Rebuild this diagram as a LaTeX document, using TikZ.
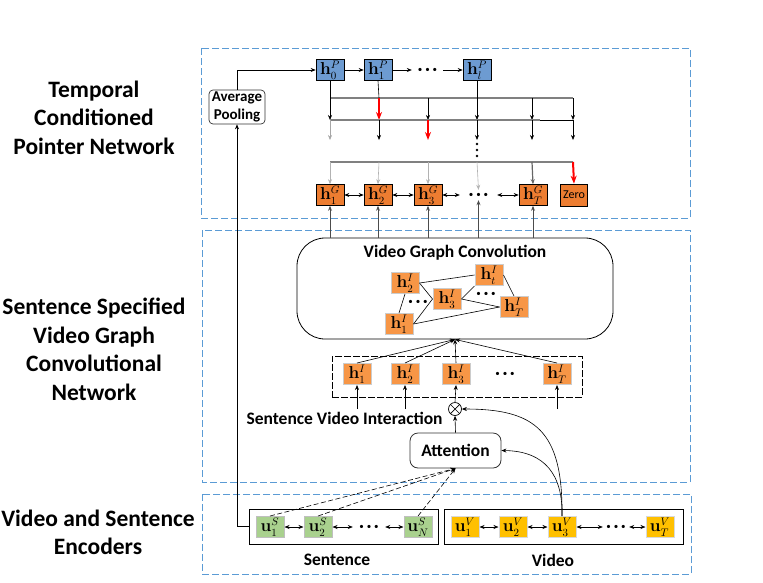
\documentclass[tikz,border=0pt]{standalone}
\usepackage[no-math]{fontspec}
\setmainfont{Carlito}
\usetikzlibrary{arrows.meta,calc}
\definecolor{pblue}{HTML}{6D9BD1}
\definecolor{gorange}{HTML}{ED7D31}
\definecolor{iorange}{HTML}{F79646}
\definecolor{sgreen}{HTML}{A9D18E}
\definecolor{vgold}{HTML}{FFC000}
\definecolor{dashblue}{HTML}{5B9BD5}
\newcommand{\mydots}{\textbullet\hspace{3pt}\textbullet\hspace{3pt}\textbullet}
\tikzset{
  >={Stealth[length=5pt,width=4pt]},
  hbox/.style={draw=black, line width=0.6pt, minimum width=28pt, minimum height=21pt, inner sep=0pt, font=\fontsize{16}{16}\selectfont},
  pbox/.style={hbox, fill=pblue},
  gbox/.style={hbox, fill=gorange},
  ibox/.style={hbox, fill=iorange, draw=black!20, line width=1pt},
  sgbox/.style={hbox, fill=sgreen, draw=black!25, line width=1pt},
  vgbox/.style={hbox, fill=vgold, draw=black!15, line width=1pt},
  region/.style={draw=dashblue, dash pattern=on 7pt off 3pt, line width=0.8pt},
  sidelabel/.style={font=\bfseries\fontsize{23.5}{28.5}\selectfont, align=center},
  titlefont/.style={font=\bfseries\fontsize{17.5}{20}\selectfont},
  dotsn/.style={inner sep=0pt, minimum height=10pt, font=\fontsize{9}{9}\selectfont},
  conn/.style={->, line width=0.6pt},
  dconn/.style={<->, line width=0.6pt},
  plainline/.style={line width=0.6pt},
  redarr/.style={-{Stealth[length=8pt,width=6pt]}, red, line width=2pt},
  grayline/.style={draw=black!50, line width=1.5pt},
}
\begin{document}
\begin{tikzpicture}[x=1pt,y=-1pt]
\useasboundingbox (0,0) rectangle (763,582);

% regions
\draw[region] (201,48) rectangle (690,218);
\draw[region] (202,230) rectangle (690,482);
\draw[region] (202,494) rectangle (691,574);

% side labels
\node[sidelabel] (lbltop) at (94,117.5) {Temporal\\Conditioned\\Pointer Network};
\node[sidelabel] (lblmid) at (94,349.5) {Sentence Specified\\Video Graph\\Convolutional\\Network};
\node[sidelabel] (lblbot) at (98,532.5) {Video and Sentence\\Encoders};

% ---------- pointer network ----------
\node[draw=black!80, rounded corners=4pt, minimum width=56pt, minimum height=34pt, inner sep=1pt,
      font=\bfseries\fontsize{15}{18}\selectfont, align=center, line width=0.7pt] (avg) at (237,107) {Average\\Pooling};

\node[pbox] (h0) at (330,70) {$\mathbf{h}_0^P$};
\node[pbox] (h1) at (378,70) {$\mathbf{h}_1^P$};
\node[dotsn, minimum width=31pt] (pdots) at (427.5,70) {\mydots};
\node[pbox] (hl) at (477,70) {$\mathbf{h}_l^P$};

\draw[conn] (avg.north) |- (h0.west);
\draw[conn] (h0.east) -- (h1.west);
\draw[conn] (h1.east) -- (pdots.west);
\draw[conn] (pdots.east) -- (hl.west);

\foreach \c/\x in {1/330,2/379,3/428,4/477,5/532,6/573}{
  \foreach \r/\y in {a/98,b/120,c/140,d/162}{
    \coordinate (\r\c) at (\x,\y);
  }
}
\coordinate (bmid) at (540,120);

% row 1
\draw[grayline] (a1) -- (a6);
\draw[conn] (h0.south) -- (b1);
\draw[plainline] (h1.south) -- (a2);
\draw[redarr] (a2) -- (b2);
\draw[conn] (a3) -- (b3);
\draw[conn] (hl.south) -- (b4);
\draw[conn] (a5) -- (b5);
\draw[conn] (a6) -- (b6);
% row 2
\draw[grayline] (b1) -- (bmid);
\draw[plainline] (bmid) -- (b6);
\draw[conn, black!35] (b1) -- (c1);
\draw[conn] (b2) -- (c2);
\draw[redarr] (b3) -- (c3);
\draw[conn] (b4) -- (c4);
\draw[conn] (b5) -- (c5);
\draw[conn] (b6) -- (c6);
% vertical dots
\foreach \yy in {144,150,156} \fill (477,\yy) circle (1.3pt);
% row 3
\draw[grayline] (d1) -- (d6);

\node[gbox] (g1) at (330,195) {$\mathbf{h}_1^G$};
\node[gbox] (g2) at (378,195) {$\mathbf{h}_2^G$};
\node[gbox] (g3) at (428,195) {$\mathbf{h}_3^G$};
\node[dotsn, minimum width=37pt] (gdots) at (478.5,195) {\mydots};
\node[gbox] (gT) at (533,195) {$\mathbf{h}_T^G$};
\node[gbox, minimum width=27pt, minimum height=22pt, font=\fontsize{12}{12}\selectfont] (zero) at (574,195) {Zero};

\draw[conn, black!30] (d1) -- (g1.north);
\draw[conn, black!30] (d2) -- (g2.north);
\draw[conn, black!30] (d3) -- (g3.north);
\draw[conn, black!30] (d4) -- (gdots.north);
\draw[conn, black!60, line width=1.2pt] (d5) -- (gT.north);
\draw[redarr] (d6) -- (zero.north);

\draw[dconn] (g1.east) -- (g2.west);
\draw[dconn] (g2.east) -- (g3.west);
\draw[dconn] (g3.east) -- (gdots.west);
\draw[dconn] (gdots.east) -- (gT.west);

% ---------- video graph convolution ----------
\node[draw, rounded corners=28pt, minimum width=316pt, minimum height=101pt, line width=0.8pt] (vgc) at (455,288.5) {};
\node[titlefont] (vgctitle) at (455,253) {Video Graph Convolution};

\draw[conn, black!70, line width=1pt] (g1.south |- vgc.north) -- (g1.south);
\draw[conn, black!70, line width=1pt] (g2.south |- vgc.north) -- (g2.south);
\draw[conn, black!70, line width=1pt] (g3.south |- vgc.north) -- (g3.south);
\draw[conn, black!70, line width=1pt] (gdots.south |- vgc.north) -- (gdots.south);
\draw[conn, black!70, line width=1pt] (gT.south |- vgc.north) -- (gT.south);

\node[ibox] (i2) at (405,283) {$\mathbf{h}_2^I$};
\node[ibox] (i3) at (447,299) {$\mathbf{h}_3^I$};
\node[ibox] (it) at (489,275) {$\mathbf{h}_t^I$};
\node[ibox] (iT) at (514,307) {$\mathbf{h}_T^I$};
\node[ibox] (i1) at (399,324) {$\mathbf{h}_1^I$};

\draw[plainline] (i2.east) -- (it.west);
\draw[plainline] (i2.east) -- (i3.west) -- (i1.east);
\draw[plainline] (i1.north) -- (i2.south);
\draw[plainline] (i1.east) -- (iT.west);
\draw[plainline] (i3.east) -- (iT.west);
\draw[plainline] (i3.east) -- (it.south west);
\draw[plainline] (it.east) -- (iT.north);
\node[dotsn] (gd1) at (418,302) {\mydots};
\node[dotsn] (gd2) at (486,294) {\mydots};

% lower h^I row
\node[draw, dash pattern=on 7pt off 2pt, minimum width=250pt, minimum height=41pt, line width=0.7pt] (irow) at (457,376.5) {};
\node[ibox] (j1) at (357,374) {$\mathbf{h}_1^I$};
\node[ibox] (j2) at (405,374) {$\mathbf{h}_2^I$};
\node[ibox] (j3) at (456,374) {$\mathbf{h}_3^I$};
\node[dotsn] (jdots) at (505,374) {\mydots};
\node[ibox] (jT) at (557,374) {$\mathbf{h}_T^I$};

\draw[conn] (j1.north) -- (vgc.south);
\draw[conn] (j2.north) -- (vgc.south);
\draw[conn] (j3.north) -- (vgc.south);
\draw[conn] (jT.north) -- (vgc.south);

% interaction
\node[circle, draw, line width=0.7pt, inner sep=0pt, minimum size=13pt,
  path picture={\draw[line width=0.7pt, shift={(path picture bounding box.center)}] (-45:7pt) -- (135:7pt) (45:7pt) -- (-135:7pt);}] (ox) at (455,409) {};
\node[titlefont, anchor=west] (svi) at (243,418) {Sentence Video Interaction};

\draw[conn] (j1 |- ox) -- (j1.south);
\draw[conn] (j2 |- ox) -- (j2.south);
\draw[conn] (ox.north) -- (j3.south);
\draw[conn] (jT |- ox) -- (jT.south);

\node[draw=black!80, rounded corners=8pt, minimum width=91pt, minimum height=35pt, line width=0.8pt, titlefont] (att) at (455.5,450.5) {Attention};
\draw[conn] (att.north) -- (ox.south);

% ---------- encoders ----------
\node[draw, minimum width=189pt, minimum height=35pt, line width=0.7pt] (sentbox) at (343.5,526.5) {};
\node[draw, minimum width=239pt, minimum height=35pt, line width=0.7pt] (vidbox) at (563.5,526.5) {};

\node[sgbox] (s1) at (270,527) {$\mathbf{u}_1^S$};
\node[sgbox] (s2) at (318,527) {$\mathbf{u}_2^S$};
\node[dotsn, minimum width=32pt] (sdots) at (369,527) {\mydots};
\node[sgbox] (sN) at (418,527) {$\mathbf{u}_N^S$};

\node[vgbox] (v1) at (465,527) {$\mathbf{u}_1^V$};
\node[vgbox] (v2) at (513,527) {$\mathbf{u}_2^V$};
\node[vgbox] (v3) at (562,527) {$\mathbf{u}_3^V$};
\node[dotsn, minimum width=26pt] (vdots) at (616,527) {\mydots};
\node[vgbox] (vT) at (660,527) {$\mathbf{u}_T^V$};

\draw[dconn] (s1.east) -- (s2.west);
\draw[dconn] (s2.east) -- (sdots.west);
\draw[dconn] (sdots.east) -- (sN.west);
\draw[dconn] (v1.east) -- (v2.west);
\draw[dconn] (v2.east) -- (v3.west);
\draw[dconn] (v3.east) -- (vdots.west);
\draw[dconn] (vdots.east) -- (vT.west);

\node[titlefont] (lblsent) at (337,560) {Sentence};
\node[titlefont] (lblvid) at (553,560) {Video};

\draw[conn, dash pattern=on 5pt off 2.5pt] (s1.north) -- (att.south);
\draw[conn, dash pattern=on 5pt off 2.5pt] (s2.north) -- (att.south);
\draw[conn, dash pattern=on 5pt off 2.5pt] (sN.north) -- (att.south);

\draw[conn] (v3.north) .. controls (563,430) and (535,409) .. (ox.east);
\draw[conn] (v3.north) .. controls (563,475) and (545,451) .. (att.east);

\draw[conn] (sentbox.west) -| (avg.south);
\end{tikzpicture}
\end{document}
